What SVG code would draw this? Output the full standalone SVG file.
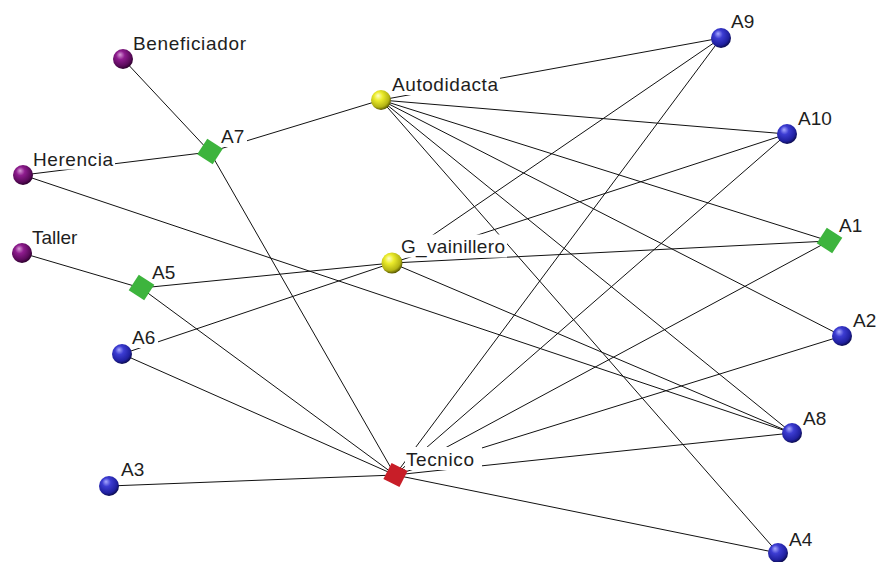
<svg xmlns="http://www.w3.org/2000/svg" width="881" height="562" viewBox="0 0 881 562">
<defs>
<radialGradient id="gPurple" cx="0.42" cy="0.38" r="0.62" fx="0.35" fy="0.28">
<stop offset="0" stop-color="#d79ad7"/><stop offset="0.35" stop-color="#8e1c8e"/><stop offset="0.8" stop-color="#5a0a5a"/><stop offset="1" stop-color="#2e002e"/>
</radialGradient>
<radialGradient id="gBlue" cx="0.42" cy="0.38" r="0.62" fx="0.35" fy="0.28">
<stop offset="0" stop-color="#a8a8ff"/><stop offset="0.35" stop-color="#3c3cd2"/><stop offset="0.8" stop-color="#2020a0"/><stop offset="1" stop-color="#0c0c50"/>
</radialGradient>
<radialGradient id="gYellow" cx="0.42" cy="0.38" r="0.62" fx="0.35" fy="0.28">
<stop offset="0" stop-color="#ffffc8"/><stop offset="0.35" stop-color="#ecec2c"/><stop offset="0.8" stop-color="#b4b414"/><stop offset="1" stop-color="#5a5a00"/>
</radialGradient>
</defs>
<style>
.e{stroke:#111;stroke-width:1;fill:none}
.lb{fill:#fff}
.t{font-family:"Liberation Sans",Arial,sans-serif;font-size:19px;fill:#1e1e1e}
.p{fill:url(#gPurple)}
.b{fill:url(#gBlue)}
.y{fill:url(#gYellow)}
.g{fill:#3db43d}
.r{fill:#c81e28}
</style>
<rect width="881" height="562" fill="#fff"/>
<g id="connectors">
<line class="e" x1="123" y1="59" x2="210" y2="152"/>
<line class="e" x1="23" y1="175" x2="210" y2="152"/>
<line class="e" x1="23" y1="175" x2="792" y2="433"/>
<line class="e" x1="22" y1="253" x2="141" y2="288"/>
<line class="e" x1="210" y1="152" x2="381" y2="100"/>
<line class="e" x1="210" y1="152" x2="395" y2="475"/>
<line class="e" x1="141" y1="288" x2="392" y2="263"/>
<line class="e" x1="141" y1="288" x2="395" y2="475"/>
<line class="e" x1="122" y1="354" x2="392" y2="263"/>
<line class="e" x1="122" y1="354" x2="395" y2="475"/>
<line class="e" x1="109" y1="486" x2="395" y2="475"/>
<line class="e" x1="381" y1="100" x2="721" y2="38"/>
<line class="e" x1="381" y1="100" x2="787" y2="134"/>
<line class="e" x1="381" y1="100" x2="829" y2="241"/>
<line class="e" x1="381" y1="100" x2="842" y2="336"/>
<line class="e" x1="381" y1="100" x2="792" y2="433"/>
<line class="e" x1="381" y1="100" x2="778" y2="553"/>
<line class="e" x1="392" y1="263" x2="721" y2="38"/>
<line class="e" x1="392" y1="263" x2="787" y2="134"/>
<line class="e" x1="392" y1="263" x2="829" y2="241"/>
<line class="e" x1="392" y1="263" x2="792" y2="433"/>
<line class="e" x1="395" y1="475" x2="721" y2="38"/>
<line class="e" x1="395" y1="475" x2="787" y2="134"/>
<line class="e" x1="395" y1="475" x2="829" y2="241"/>
<line class="e" x1="395" y1="475" x2="842" y2="336"/>
<line class="e" x1="395" y1="475" x2="792" y2="433"/>
<line class="e" x1="395" y1="475" x2="778" y2="553"/>
</g>
<g id="Beneficiador"><rect class="lb" x="132" y="31" width="116" height="23"/><text class="t" x="133" y="50" textLength="113">Beneficiador</text><circle class="p" cx="123" cy="59" r="10"/></g>
<g id="Herencia"><rect class="lb" x="32" y="147" width="83" height="22.5"/><text class="t" x="33" y="166" textLength="80">Herencia</text><circle class="p" cx="23" cy="175" r="10"/></g>
<g id="Taller"><rect class="lb" x="31" y="225" width="51" height="23"/><text class="t" x="32" y="244">Taller</text><circle class="p" cx="22" cy="253" r="10"/></g>
<g id="A7"><rect class="lb" x="220" y="124" width="27" height="23"/><text class="t" x="221" y="143">A7</text><rect class="g" x="-9.25" y="-9.25" width="18.5" height="18.5" transform="translate(210,151.5) rotate(33)"/></g>
<g id="A5"><rect class="lb" x="151" y="260" width="27" height="23"/><text class="t" x="152" y="279">A5</text><rect class="g" x="-9.25" y="-9.25" width="18.5" height="18.5" transform="translate(141.5,287.5) rotate(33)"/></g>
<g id="A6"><rect class="lb" x="131" y="325" width="27" height="23"/><text class="t" x="132" y="344">A6</text><circle class="b" cx="122" cy="354" r="10"/></g>
<g id="A3"><rect class="lb" x="120" y="457" width="27" height="23"/><text class="t" x="121" y="476">A3</text><circle class="b" cx="109" cy="486" r="10"/></g>
<g id="Autodidacta"><rect class="lb" x="391" y="72" width="109" height="23"/><text class="t" x="392" y="91" textLength="106">Autodidacta</text><circle class="y" cx="381" cy="100" r="10"/></g>
<g id="G_vainillero"><rect class="lb" x="400" y="234.5" width="107" height="23"/><text class="t" x="401" y="253" textLength="104">G_vainillero</text><circle class="y" cx="392" cy="263" r="10.5"/></g>
<g id="Tecnico"><rect class="lb" x="405" y="447" width="77" height="23"/><text class="t" x="406" y="466" textLength="68">Tecnico</text><rect class="r" x="-9" y="-9" width="18" height="18" transform="translate(395.5,475) rotate(27)"/></g>
<g id="A9"><rect class="lb" x="730" y="9" width="27" height="23"/><text class="t" x="731" y="28">A9</text><circle class="b" cx="721" cy="38" r="10"/></g>
<g id="A10"><rect class="lb" x="797" y="106" width="38" height="23"/><text class="t" x="798" y="125">A10</text><circle class="b" cx="787" cy="134" r="10"/></g>
<g id="A1"><rect class="lb" x="838" y="213" width="27" height="23"/><text class="t" x="839" y="232">A1</text><rect class="g" x="-9.25" y="-9.25" width="18.5" height="18.5" transform="translate(829.5,240.5) rotate(33)"/></g>
<g id="A2"><rect class="lb" x="852" y="308" width="27" height="23"/><text class="t" x="853" y="327">A2</text><circle class="b" cx="842" cy="336" r="10"/></g>
<g id="A8"><rect class="lb" x="802" y="406" width="27" height="23"/><text class="t" x="803" y="425">A8</text><circle class="b" cx="792" cy="433" r="10"/></g>
<g id="A4"><rect class="lb" x="788" y="527" width="27" height="23"/><text class="t" x="789" y="546">A4</text><circle class="b" cx="778" cy="553" r="10"/></g>
</svg>
